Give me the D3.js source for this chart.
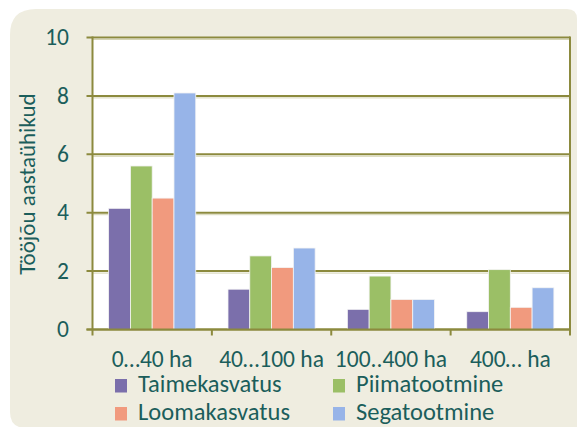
<!DOCTYPE html>
<html>
<head>
<meta charset="utf-8">
<script src="https://cdn.jsdelivr.net/npm/d3@7/dist/d3.min.js"></script>
<style>
  html, body { margin: 0; padding: 0; background: #fff; }
  svg { display: block; font-family: Carlito, "Open Sans", Lato, sans-serif; }
</style>
</head>
<body>
<div id="chart"></div>
<script>
// chart data
const categories = ["0…40 ha", "40…100 ha", "100..400 ha", "400… ha"];
const seriesNames = ["Taimekasvatus", "Piimatootmine", "Loomakasvatus", "Segatootmine"];
const taimekasvatus = [4.15, 1.38, 0.69, 0.61];
const piimatootmine = [5.6, 2.52, 1.83, 2.05];
const loomakasvatus = [4.5, 2.12, 1.03, 0.76];
const segatootmine = [8.1, 2.79, 1.03, 1.43];
const yTicks = [0, 2, 4, 6, 8, 10];
const yTitle = "Tööjõu aastaühikud";

const colors = ["#7b6fab", "#9bbf66", "#f19a7e", "#97b4e8"];
const seriesValues = [taimekasvatus, piimatootmine, loomakasvatus, segatootmine];
const textColor = "#1b5e5b";
const lineColor = "#8c8a3e";
const fontSize = 23.5;

const W = 577, H = 427;
const plot = { left: 92.5, top: 37.5, right: 570, bottom: 329.5 };

const svg = d3.select("#chart").append("svg")
  .attr("width", W).attr("height", H);

// beige panel with uneven rounded corners
const px0 = 10, py0 = 9, px1 = 577, py1 = 428;
const rTL = 26, rTR = 10, rBL = 16;
svg.append("path")
  .attr("d", `M${px0},${py0 + rTL} Q${px0},${py0} ${px0 + rTL},${py0}
    L${px1 - rTR},${py0} Q${px1},${py0} ${px1},${py0 + rTR}
    L${px1},${py1} L${px0 + rBL},${py1} Q${px0},${py1} ${px0},${py1 - rBL} Z`)
  .attr("fill", "#efede0");

// plot area background
svg.append("rect")
  .attr("x", plot.left).attr("y", plot.top)
  .attr("width", plot.right - plot.left).attr("height", plot.bottom - plot.top)
  .attr("fill", "#fff");

const x0 = d3.scaleBand().domain(categories)
  .range([plot.left, plot.right]).paddingInner(0.27).paddingOuter(0.135);
const x1 = d3.scaleBand().domain(seriesNames).range([0, x0.bandwidth()]);
const y = d3.scaleLinear().domain([0, 10]).range([plot.bottom, plot.top]);

// gridlines (with a pale line under each, like the original)
const grid = svg.append("g");
grid.selectAll("line.shadow").data(yTicks.slice(1)).join("line")
  .attr("class", "shadow")
  .attr("x1", plot.left).attr("x2", plot.right)
  .attr("y1", d => y(d) + 2).attr("y2", d => y(d) + 2)
  .attr("stroke", "#d6d5b6").attr("stroke-width", 1);
grid.selectAll("line.main").data(yTicks).join("line")
  .attr("class", "main")
  .attr("x1", plot.left - 6).attr("x2", plot.right)
  .attr("y1", d => y(d)).attr("y2", d => y(d))
  .attr("stroke", lineColor).attr("stroke-width", 2);

// right frame line
svg.append("line")
  .attr("x1", plot.right).attr("x2", plot.right)
  .attr("y1", plot.top - 1).attr("y2", plot.bottom + 6)
  .attr("stroke", lineColor).attr("stroke-width", 2);

// bars
const groups = svg.append("g").selectAll("g")
  .data(categories).join("g")
  .attr("transform", d => `translate(${x0(d)},0)`);
groups.selectAll("rect")
  .data((c, ci) => seriesNames.map((s, si) => ({ s, si, v: seriesValues[si][ci] })))
  .join("rect")
  .attr("x", d => x1(d.s))
  .attr("y", d => y(d.v))
  .attr("width", x1.bandwidth())
  .attr("height", d => y(0) - y(d.v))
  .attr("fill", d => colors[d.si])
  .attr("stroke", "#f4f4f4").attr("stroke-width", 0.8);

// axes lines
svg.append("line")
  .attr("x1", plot.left).attr("x2", plot.left)
  .attr("y1", plot.top - 1).attr("y2", plot.bottom + 6)
  .attr("stroke", lineColor).attr("stroke-width", 2);
svg.append("line")
  .attr("x1", plot.left - 6).attr("x2", plot.right)
  .attr("y1", plot.bottom).attr("y2", plot.bottom)
  .attr("stroke", lineColor).attr("stroke-width", 2);

// category boundary ticks
const step = (plot.right - plot.left) / categories.length;
svg.append("g").selectAll("line")
  .data(d3.range(1, categories.length)).join("line")
  .attr("x1", i => plot.left + i * step).attr("x2", i => plot.left + i * step)
  .attr("y1", plot.bottom).attr("y2", plot.bottom + 6)
  .attr("stroke", lineColor).attr("stroke-width", 2);

// y tick labels
svg.append("g").selectAll("text")
  .data(yTicks).join("text")
  .attr("x", 69).attr("y", d => y(d))
  .attr("dy", "0.33em")
  .attr("text-anchor", "end")
  .attr("fill", textColor)
  .attr("font-size", fontSize)
  .text(d => d);

// category labels
svg.append("g").selectAll("text")
  .data(categories).join("text")
  .attr("x", d => x0(d) + x0.bandwidth() / 2)
  .attr("y", 366.5)
  .attr("text-anchor", "middle")
  .attr("fill", textColor)
  .attr("font-size", fontSize)
  .text(d => d);

// y title
svg.append("text")
  .attr("transform", "translate(35,184) rotate(-90)")
  .attr("text-anchor", "middle")
  .attr("fill", textColor)
  .attr("font-size", 23)
  .text(yTitle);

// legend: two columns, two rows (series 0,2 left; 1,3 right)
const legendX = [115, 333];
const legendY = [386, 414];
const legend = svg.append("g").selectAll("g")
  .data(seriesNames.map((name, si) => ({ name, color: colors[si], si })))
  .join("g")
  .attr("transform", d => `translate(${legendX[d.si % 2]},${legendY[Math.floor(d.si / 2)]})`);
legend.append("rect")
  .attr("x", 0).attr("y", -7).attr("width", 12).attr("height", 13.5)
  .attr("fill", d => d.color);
legend.append("text")
  .attr("x", 23).attr("y", 6)
  .attr("fill", textColor)
  .attr("font-size", 24.5)
  .text(d => d.name);
</script>
</body>
</html>
